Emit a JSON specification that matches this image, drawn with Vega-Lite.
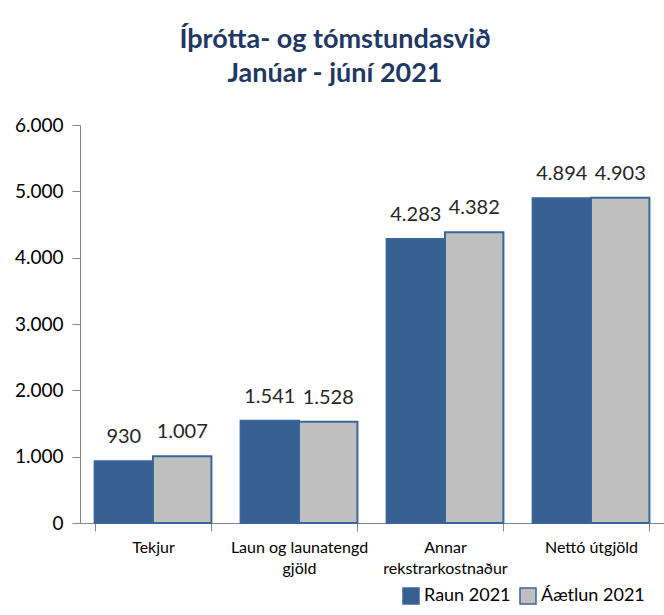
{
  "$schema": "https://vega.github.io/schema/vega-lite/v6.json",
  "width": 584,
  "height": 398,
  "autosize": {"type": "none"},
  "padding": {"left": 80, "top": 125, "right": 0, "bottom": 92},
  "title": {
    "text": ["Íþrótta- og tómstundasvið", "Janúar - júní 2021"],
    "font": "Lato",
    "fontSize": 27,
    "fontWeight": "bold",
    "color": "#1F3864",
    "anchor": "middle",
    "frame": "group",
    "dx": -37,
    "offset": 28,
    "lineHeight": 34
  },
  "config": {
    "locale": {
      "number": {
        "decimal": ",",
        "thousands": ".",
        "grouping": [3],
        "currency": ["", " kr."]
      }
    },
    "view": {"stroke": null},
    "font": "Lato"
  },
  "data": {
    "values": [
      {"kategoria": "Tekjur", "flokkur": "Raun 2021", "upphaed": 930},
      {"kategoria": "Tekjur", "flokkur": "Áætlun 2021", "upphaed": 1007},
      {"kategoria": "Laun og launatengd gjöld", "flokkur": "Raun 2021", "upphaed": 1541},
      {"kategoria": "Laun og launatengd gjöld", "flokkur": "Áætlun 2021", "upphaed": 1528},
      {"kategoria": "Annar rekstrarkostnaður", "flokkur": "Raun 2021", "upphaed": 4283},
      {"kategoria": "Annar rekstrarkostnaður", "flokkur": "Áætlun 2021", "upphaed": 4382},
      {"kategoria": "Nettó útgjöld", "flokkur": "Raun 2021", "upphaed": 4894},
      {"kategoria": "Nettó útgjöld", "flokkur": "Áætlun 2021", "upphaed": 4903}
    ]
  },
  "encoding": {
    "x": {
      "field": "kategoria",
      "type": "nominal",
      "sort": null,
      "scale": {"paddingInner": 0.2, "paddingOuter": 0.1},
      "axis": {
        "title": null,
        "labelAngle": 0,
        "tickBand": "extent",
        "tickSize": 8,
        "domainColor": "#868686",
        "tickColor": "#868686",
        "labelFontSize": 16,
        "labelColor": "#000000",
        "labelPadding": 8,
        "labelLineHeight": 21,
        "labelExpr": "datum.label == 'Laun og launatengd gjöld' ? ['Laun og launatengd', 'gjöld'] : datum.label == 'Annar rekstrarkostnaður' ? ['Annar', 'rekstrarkostnaður'] : datum.label"
      }
    },
    "xOffset": {"field": "flokkur", "type": "nominal", "sort": ["Raun 2021", "Áætlun 2021"]},
    "y": {
      "field": "upphaed",
      "type": "quantitative",
      "scale": {"domain": [0, 6000]},
      "axis": {
        "title": null,
        "grid": false,
        "values": [0, 1000, 2000, 3000, 4000, 5000, 6000],
        "format": ",d",
        "domainColor": "#868686",
        "tickColor": "#868686",
        "tickSize": 8,
        "labelFontSize": 19,
        "labelColor": "#000000",
        "labelPadding": 9
      }
    }
  },
  "layer": [
    {
      "mark": {"type": "bar", "stroke": "#3A6599", "strokeWidth": 2},
      "encoding": {
        "fill": {
          "field": "flokkur",
          "type": "nominal",
          "sort": ["Raun 2021", "Áætlun 2021"],
          "scale": {"domain": ["Raun 2021", "Áætlun 2021"], "range": ["#376092", "#BFBFBF"]},
          "legend": {
            "title": null,
            "orient": "none",
            "direction": "horizontal",
            "legendX": 322,
            "legendY": 462,
            "symbolType": "square",
            "symbolSize": 256,
            "symbolStrokeColor": "#3A6599",
            "symbolStrokeWidth": 1.5,
            "labelFontSize": 18,
            "labelColor": "#000000",
            "labelOffset": 4,
            "columnPadding": 6
          }
        }
      }
    },
    {
      "mark": {"type": "text", "baseline": "bottom", "dy": -14, "fontSize": 20, "color": "#262626"},
      "encoding": {
        "text": {"field": "upphaed", "type": "quantitative", "format": ",d"}
      }
    }
  ]
}
